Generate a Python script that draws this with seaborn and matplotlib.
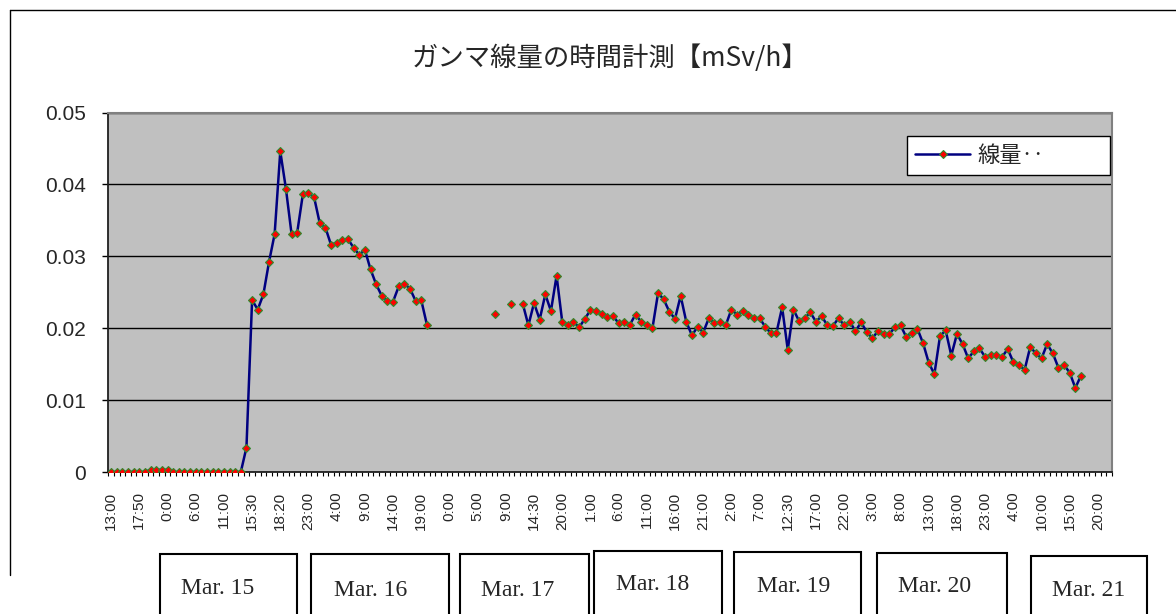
"""
ガンマ線量の時間計測のグラフを再現するスクリプト。
"""

import numpy as np
import pandas as pd
import matplotlib
matplotlib.use("Agg")
import matplotlib.pyplot as plt
from matplotlib.lines import Line2D
from matplotlib.patches import Rectangle
import seaborn as sns

nan = np.nan

# 線量 [mSv/h] (空欄は NaN)
dose = [
    0, 0, 0, 0, 0, 0, 0, 0.0003, 0.0003, 0.0003,
    0.0003, 0, 0, 0, 0, 0, 0, 0, 0, 0,
    0, 0, 0, 0, 0.0034, 0.0239, 0.0226, 0.0247, 0.0292, 0.0331,
    0.0446, 0.0394, 0.0331, 0.0333, 0.0386, 0.0388, 0.0382, 0.0346, 0.0340, 0.0316,
    0.0319, 0.0322, 0.0324, 0.0312, 0.0302, 0.0309, 0.0282, 0.0261, 0.0245, 0.0238,
    0.0237, 0.0258, 0.0262, 0.0255, 0.0238, 0.0239, 0.0205, nan, nan, nan,
    nan, nan, nan, nan, nan, nan, nan, nan, 0.0220, nan,
    nan, 0.0233, nan, 0.0234, 0.0204, 0.0235, 0.0212, 0.0247, 0.0224, 0.0273,
    0.0209, 0.0204, 0.0209, 0.0201, 0.0213, 0.0225, 0.0224, 0.0220, 0.0216, 0.0217,
    0.0207, 0.0208, 0.0205, 0.0219, 0.0209, 0.0204, 0.0200, 0.0249, 0.0240, 0.0223,
    0.0213, 0.0245, 0.0209, 0.0190, 0.0202, 0.0194, 0.0214, 0.0207, 0.0208, 0.0204,
    0.0226, 0.0219, 0.0224, 0.0219, 0.0214, 0.0214, 0.0202, 0.0193, 0.0194, 0.0229,
    0.0170, 0.0226, 0.0210, 0.0214, 0.0222, 0.0209, 0.0217, 0.0204, 0.0203, 0.0214,
    0.0204, 0.0209, 0.0196, 0.0208, 0.0195, 0.0186, 0.0196, 0.0192, 0.0192, 0.0201,
    0.0204, 0.0188, 0.0194, 0.0199, 0.0179, 0.0152, 0.0136, 0.0189, 0.0197, 0.0162,
    0.0192, 0.0178, 0.0158, 0.0168, 0.0172, 0.0160, 0.0163, 0.0163, 0.0160, 0.0171,
    0.0153, 0.0149, 0.0142, 0.0174, 0.0165, 0.0158, 0.0178, 0.0165, 0.0145, 0.0149,
    0.0138, 0.0117, 0.0134,
]

n_categories = 178  # 横軸の項目数 (5 項目ごとにラベル)

time_labels = [
    "13:00", "17:50", "0:00", "6:00", "11:00", "15:30", "18:20", "23:00", "4:00",
    "9:00", "14:00", "19:00", "0:00", "5:00", "9:00", "14:30", "20:00", "1:00",
    "6:00", "11:00", "16:00", "21:00", "2:00", "7:00", "12:30", "17:00", "22:00",
    "3:00", "8:00", "13:00", "18:00", "23:00", "4:00", "10:00", "15:00", "20:00",
]

y_ticks = [0, 0.01, 0.02, 0.03, 0.04, 0.05]
y_labels = ["0", "0.01", "0.02", "0.03", "0.04", "0.05"]

day_labels = ["Mar. 15", "Mar. 16", "Mar. 17", "Mar. 18", "Mar. 19", "Mar. 20", "Mar. 21"]

title = "ガンマ線量の時間計測【mSv/h】"
series_name = "線量‥"

# 日付ボックスの配置 (ピクセル)
box_left = [160, 311, 460, 594, 734, 877, 1031]
box_right = [297, 449, 589, 722, 861, 1007, 1147]
box_top = [554, 554, 554, 551, 552, 553, 556]
text_x = [218, 371, 518, 653, 794, 935, 1089]
text_y = [589, 590, 590, 584, 586, 586, 590]

W, H = 1176, 614
LINE = "#000080"
MFACE = "#FF0000"
MEDGE = "#2E8B2E"

# 空欄で線を切るためにセグメント番号を付ける
df = pd.DataFrame({"idx": np.arange(len(dose)), "dose": dose})
df["seg"] = df["dose"].isna().cumsum()
df = df.dropna()

sns.set_theme(style="white")
plt.rcParams["font.family"] = ["Liberation Sans", "Noto Sans CJK JP", "DejaVu Sans"]
cjk = ["Noto Sans CJK JP", "DejaVu Sans"]

fig = plt.figure(figsize=(W / 100, H / 100), dpi=100)
fig.patch.set_facecolor("white")

ax = fig.add_axes([108.3 / W, 1 - 472 / H, (1112 - 108.3) / W, (472 - 112.5) / H])
ax.set_facecolor("#C0C0C0")

sns.lineplot(
    data=df, x="idx", y="dose", units="seg", estimator=None,
    color=LINE, linewidth=1.8, marker="D", markersize=4.2,
    markerfacecolor=MFACE, markeredgecolor=MEDGE, markeredgewidth=0.8,
    legend=False, ax=ax, zorder=3,
)

ax.set_xlim(-0.5, n_categories - 0.5)
ax.set_ylim(0, 0.05)
ax.set_xlabel("")
ax.set_ylabel("")

ax.set_xticks(np.arange(0, n_categories, 5))
ax.set_xticklabels(time_labels, rotation=90, fontsize=11, va="top", ha="center")
ax.set_xticks(np.arange(-0.5, n_categories, 1), minor=True)
ax.tick_params(axis="x", which="major", length=0, pad=14)
ax.tick_params(axis="x", which="minor", length=3, width=0.8, color="black", direction="out")
ax.xaxis.set_ticks_position("bottom")

ax.set_yticks(y_ticks)
ax.set_yticklabels(y_labels, fontsize=15)
ax.tick_params(axis="y", which="major", length=4, width=1, color="black",
               direction="out", pad=12, left=True)

ax.set_axisbelow(True)
ax.grid(axis="y", color="black", linewidth=1)
ax.grid(axis="x", visible=False)

for side in ["left", "bottom"]:
    ax.spines[side].set_color("#202020")
    ax.spines[side].set_linewidth(1.3)
for side in ["top", "right"]:
    ax.spines[side].set_color("#808080")
    ax.spines[side].set_linewidth(1.5)

# 凡例
handle = Line2D([], [], color=LINE, linewidth=1.8, marker="D", markersize=4.2,
                markerfacecolor=MFACE, markeredgecolor=MEDGE, markeredgewidth=0.8)
leg = ax.legend(
    handles=[handle], labels=[series_name], loc="upper left",
    bbox_to_anchor=(907 / W, 1 - 137 / H, 203 / W, 0.001),
    bbox_transform=fig.transFigure, mode="expand", borderaxespad=0,
    frameon=True, fancybox=False, framealpha=1, edgecolor="black",
    handlelength=2.5, handletextpad=0.3, borderpad=0.35,
    prop={"family": cjk, "size": 16},
)
leg.get_frame().set_linewidth(1.0)

# タイトル
fig.text(610 / W, 1 - 58 / H, title, ha="center", va="center",
         fontsize=19, family=cjk)

# グラフエリアの枠線
fig.add_artist(Line2D([10 / W, 1], [1 - 10 / H, 1 - 10 / H], color="black", lw=1,
                      transform=fig.transFigure))
fig.add_artist(Line2D([10 / W, 10 / W], [1 - 10 / H, 1 - 575 / H], color="black", lw=1,
                      transform=fig.transFigure))

# 日付ボックス
for lbl, x0, x1, yt, tx, ty in zip(day_labels, box_left, box_right, box_top, text_x, text_y):
    fig.add_artist(Rectangle((x0 / W, -0.05), (x1 - x0) / W, 0.05 + 1 - yt / H,
                             transform=fig.transFigure, facecolor="white",
                             edgecolor="black", linewidth=1.5))
    fig.text(tx / W, 1 - ty / H, lbl, ha="center", va="center",
             fontsize=17, family="Liberation Serif")

fig.savefig("out.png", dpi=100)
